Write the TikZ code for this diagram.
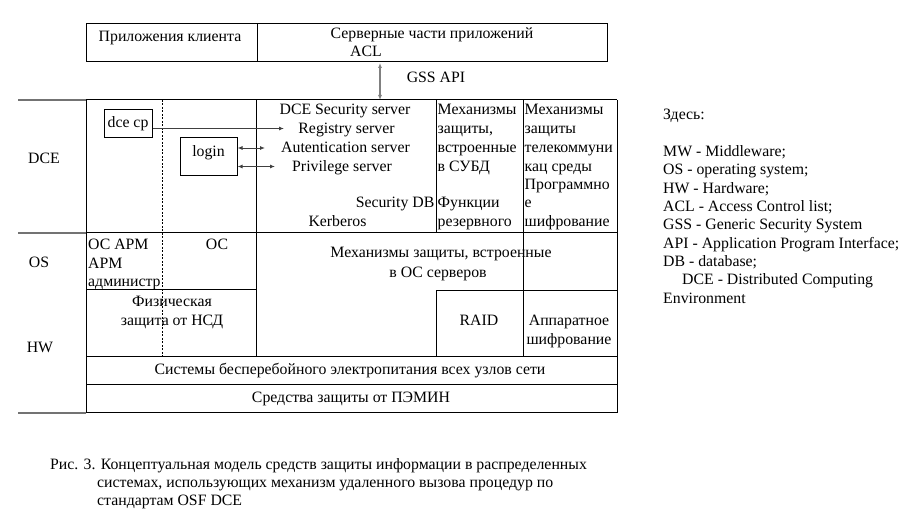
\documentclass[tikz,border=0pt]{standalone}
\usepackage{fontspec}
\setmainfont{Liberation Serif}
\usetikzlibrary{arrows.meta}
\begin{document}
\begin{tikzpicture}[x=1pt,y=-1pt,
  font=\fontsize{15.8}{18.5}\selectfont,
  txt/.style={inner sep=0pt, anchor=mid, yshift=-2.5pt},
  txtw/.style={inner sep=0pt, anchor=mid west, yshift=-2.5pt},
  txte/.style={inner sep=0pt, anchor=mid east, yshift=-2.5pt},
  rule/.style={line width=1pt, black},
  grayrule/.style={line width=1.3pt, black!55},
  dashrule/.style={line width=0.8pt, black, dash pattern=on 2pt off 1.5pt},
  smallbox/.style={draw, line width=1pt, inner sep=0pt},
  tip/.style={-{Latex[length=5pt,width=4pt]}, line width=0.9pt, black!75},
  dtip/.style={{Latex[length=5pt,width=4pt]}-{Latex[length=5pt,width=4pt]}, line width=0.9pt, black!75},
  gsstip/.style={{Latex[length=5pt,width=4pt]}-{Latex[length=5pt,width=4pt]}, line width=1.6pt, black!50}
]
\useasboundingbox[fill=white] (0,0) rectangle (898,510);

% ---------- top box ----------
\draw[rule] (86,24) rectangle (607,62);
\draw[rule] (257,24) -- (257,62);
\node[txt] (client) at (170,37) {Приложения клиента};
\node[txt] (server) at (432,34) {Серверные части приложений};
\node[txt] (acl) at (366,52) {ACL};
\coordinate (gssA) at (380,63);
\coordinate (gssB) at (380,100);
\draw[gsstip] (gssA) -- (gssB);
\node[txt] (gss) at (436,78) {GSS API};

% ---------- table grid ----------
\draw[grayrule] (18,100) -- (86,100);
\draw[grayrule] (18,233) -- (86,233);
\draw[grayrule] (18,413) -- (86,413);
\draw[rule] (86,100) -- (617,100);
\draw[rule] (86,233) -- (617,233);
\draw[rule] (86,413) -- (617,413);
\draw[rule] (86,100) -- (86,413);
\draw[rule] (617,100) -- (617,413);
\draw[rule] (256,100) -- (256,357);
\draw[rule] (436,100) -- (436,233);
\draw[rule] (436,291) -- (436,357);
\draw[rule] (523,100) -- (523,357);
\draw[dashrule] (162,100) -- (162,357);
\draw[rule] (86,290) -- (256,290);
\draw[rule] (436,291) -- (617,291);
\draw[rule] (86,357) -- (617,357);
\draw[rule] (86,385) -- (617,385);

% ---------- row labels ----------
\node[txt] (lDCE) at (44,159) {DCE};
\node[txt] (lOS) at (39,263) {OS};
\node[txt] (lHW) at (40,348) {HW};

% ---------- DCE row ----------
\node[smallbox, minimum width=48pt, minimum height=28pt] (dcecp) at (128,124) {dce cp};
\node[smallbox, minimum width=57pt, minimum height=38pt, text depth=12pt] (login) at (208.5,157) {login};

\node[txt] (sec) at (345,110) {DCE Security server};
\node[txt] (reg) at (346.5,129) {Registry server};
\node[txt] (aut) at (345.5,148) {Autentication server};
\node[txt] (priv) at (342,166.5) {Privilege server};
\node[txte] (secdb) at (434.5,203) {Security DB};
\node[txt] (kerb) at (337.5,222) {Kerberos};

\coordinate (regEnd) at (284,128.5);
\coordinate (autEnd) at (265,148);
\coordinate (privEnd) at (275,166.5);
\draw[tip] ([yshift=-4.5pt]dcecp.east) -- (regEnd);
\draw[dtip] ([yshift=9pt]login.east) -- (autEnd);
\draw[dtip] ([yshift=-9.5pt]login.east) -- (privEnd);

\node[txtw] (c3a) at (437.5,110) {Механизмы};
\node[txtw] (c3b) at (437.5,129) {защиты,};
\node[txtw] (c3c) at (437.5,148) {встроенные};
\node[txtw] (c3d) at (437.5,166.5) {в СУБД};
\node[txtw] (c3e) at (437.5,203) {Функции};
\node[txtw] (c3f) at (437.5,222) {резервного};

\node[txtw] (c4a) at (524.5,110) {Механизмы};
\node[txtw] (c4b) at (524.5,129) {защиты};
\node[txtw] (c4c) at (524.5,148) {телекоммуни};
\node[txtw] (c4d) at (524.5,166.5) {кац среды};
\node[txtw] (c4e) at (524.5,185) {Программно};
\node[txtw] (c4f) at (524.5,203) {е};
\node[txtw] (c4g) at (524.5,222) {шифрование};

% ---------- OS row ----------
\node[txtw] (osa) at (88,245) {ОС АРМ};
\node[txtw] (osb) at (88,263.5) {АРМ};
\node[txtw] (osc) at (88,282) {администр};
\node[txt] (osd) at (217,245) {ОС};
\node[txt] (srvA) at (441,253) {Механизмы защиты, встроенные};
\node[txt] (srvB) at (438,273) {в ОС серверов};

% ---------- HW row ----------
\node[txt] (physA) at (172,302) {Физическая};
\node[txt] (physB) at (172,320.5) {защита от НСД};
\node[txt] (raid) at (479,321) {RAID};
\node[txt] (hwA) at (569,320.5) {Аппаратное};
\node[txt] (hwB) at (569,339.5) {шифрование};
\node[txt] (ups) at (350,370) {Системы бесперебойного электропитания всех узлов сети};
\node[txt] (pemin) at (351,398) {Средства защиты от ПЭМИН};

% ---------- legend ----------
\node[txtw] (g0) at (663,115) {Здесь:};
\node[txtw] (g1) at (663,152) {MW - Middleware;};
\node[txtw] (g2) at (663,170) {OS - operating system;};
\node[txtw] (g3) at (663,188.5) {HW - Hardware;};
\node[txtw] (g4) at (663,207) {ACL - Access Control list;};
\node[txtw] (g5) at (663,225) {GSS - Generic Security System};
\node[txtw] (g6) at (663,243.5) {API - Application Program Interface;};
\node[txtw] (g7) at (663,262) {DB - database;};
\node[txtw] (g8) at (682,280) {DCE - Distributed Computing};
\node[txtw] (g9) at (663,298.5) {Environment};

% ---------- caption ----------
\node[txtw] (cap1) at (50,465) {Рис. 3. Концептуальная модель средств защиты информации в распределенных};
\node[txtw] (cap2) at (97,483) {системах, использующих механизм удаленного вызова процедур по};
\node[txtw] (cap3) at (97,501) {стандартам OSF DCE};
\end{tikzpicture}
\end{document}
